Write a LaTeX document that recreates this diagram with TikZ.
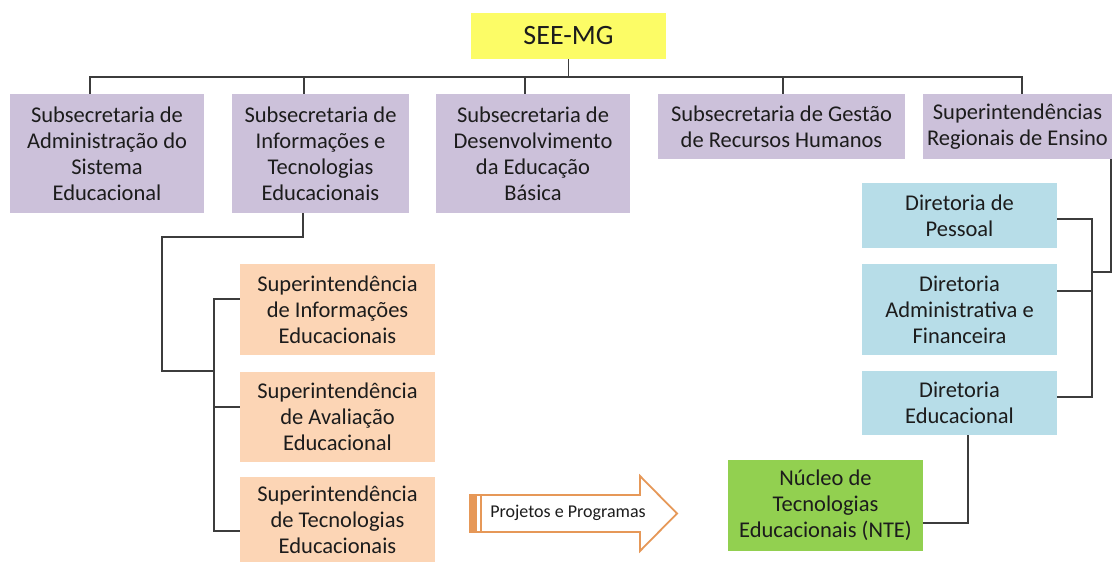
\documentclass[tikz,border=0pt]{standalone}
\usepackage{fontspec}
\setmainfont{Carlito}
\definecolor{cpurple}{RGB}{204,193,218}
\definecolor{cyellow}{RGB}{252,252,102}
\definecolor{cblue}{RGB}{183,221,232}
\definecolor{corange}{RGB}{252,213,181}
\definecolor{cgreen}{RGB}{146,208,80}
\definecolor{ctext}{RGB}{28,28,28}
\definecolor{cline}{RGB}{60,60,60}
\definecolor{carrow}{RGB}{230,152,88}
\begin{document}
\begin{tikzpicture}[x=1pt,y=-1pt,
  box/.style={inner sep=0pt, align=center, text=ctext,
    font=\fontsize{22.5}{26}\selectfont},
  pbox/.style={box, fill=cpurple},
  bbox/.style={box, fill=cblue, minimum width=195pt},
  obox/.style={box, fill=corange, minimum width=195pt},
  conn/.style={draw=cline, line width=1.2pt}]
\useasboundingbox (0,0) rectangle (1116,564);
\fill[white] (0,0) rectangle (1116,564);

\node[box, fill=cyellow, minimum width=195pt, minimum height=46pt,
  font=\fontsize{28}{32}\selectfont] (see) at (568.5,36) {SEE-MG};

\node[pbox, minimum width=194pt, minimum height=119pt] (s1) at (107,153.5)
  {Subsecretaria de\\Administração do\\Sistema\\Educacional};
\node[pbox, minimum width=177pt, minimum height=119pt] (s2) at (320.5,153.5)
  {Subsecretaria de\\Informações e\\Tecnologias\\Educacionais};
\node[pbox, minimum width=194pt, minimum height=119pt] (s3) at (533,153.5)
  {Subsecretaria de\\Desenvolvimento\\da Educação\\Básica};
\node[pbox, minimum width=247pt, minimum height=65pt] (s4) at (781.5,126.5)
  {Subsecretaria de Gestão\\de Recursos Humanos};
\node[pbox, minimum width=189pt, minimum height=65pt] (s5) at (1017.5,126.5)
  {Superintendências\\Regionais de Ensino};

\node[bbox, minimum height=65pt] (d1) at (959.5,215.5) {Diretoria de\\Pessoal};
\node[bbox, minimum height=91pt] (d2) at (959.5,309.5) {Diretoria\\Administrativa e\\Financeira};
\node[bbox, minimum height=64pt] (d3) at (959.5,403) {Diretoria\\Educacional};

\node[box, fill=cgreen, minimum width=195pt, minimum height=91pt] (nte) at (825.5,505.5)
  {Núcleo de\\Tecnologias\\Educacionais (NTE)};

\node[obox, minimum height=91pt] (o1) at (337.5,309.5) {Superintendência\\de Informações\\Educacionais};
\node[obox, minimum height=90pt] (o2) at (337.5,417) {Superintendência\\de Avaliação\\Educacional};
\node[obox, minimum height=85pt] (o3) at (337.5,519.5) {Superintendência\\de Tecnologias\\Educacionais};

% top bus
\coordinate (bL) at (90,77);
\coordinate (bR) at (1022,77);
\coordinate (b2) at (304,77);
\coordinate (b3) at (525,77);
\coordinate (b4) at (783,77);
\draw[conn] (see.south) -- (see.south |- bL);
\draw[conn] (bL |- s1.north) -- (bL) -- (bR) -- (bR |- s5.north);
\draw[conn] (b2) -- (b2 |- s2.north);
\draw[conn] (b3) -- (b3 |- s3.north);
\draw[conn] (b4) -- (b4 |- s4.north);

% left branch
\coordinate (l1) at (303,237);
\coordinate (l2) at (162,371);
\coordinate (lv) at (214,299);
\draw[conn] (l1 |- s2.south) -- (l1) -| (l2) -- (lv |- l2);
\coordinate (ya) at (0,299);
\coordinate (yb) at (0,407);
\coordinate (yc) at (0,531);
\draw[conn] (o1.west |- ya) -- (lv |- ya) -- (lv |- yc) -- (o3.west |- yc);
\draw[conn] (lv |- yb) -- (o2.west |- yb);

% right branch
\coordinate (rv) at (1092,219);
\coordinate (rr) at (1111,272);
\draw[conn] (rr |- s5.south) -- (rr) -- (rv |- rr);
\coordinate (yd1) at (0,219);
\coordinate (yd2) at (0,291);
\coordinate (yd3) at (0,397);
\draw[conn] (d1.east |- yd1) -- (rv |- yd1) -- (rv |- yd3) -- (d3.east |- yd3);
\draw[conn] (d2.east |- yd2) -- (rv |- yd2);
\coordinate (ne) at (968,523);
\draw[conn] (ne |- d3.south) -- (ne) -- (nte.east |- ne);

% arrow
\draw[carrow, line width=1.8pt, fill=white, line join=miter]
  (470,495) -- (640,495) -- (640,476) -- (677,513.5) -- (640,551) -- (640,532)
  -- (470,532) -- cycle;
\fill[carrow] (470,495) rectangle (477,532);
\draw[carrow, line width=1.4pt] (481,495) -- (481,532);
\node[inner sep=0pt, text=ctext, font=\fontsize{18}{21}\selectfont] (arr) at (568,513)
  {Projetos e Programas};
\end{tikzpicture}
\end{document}
